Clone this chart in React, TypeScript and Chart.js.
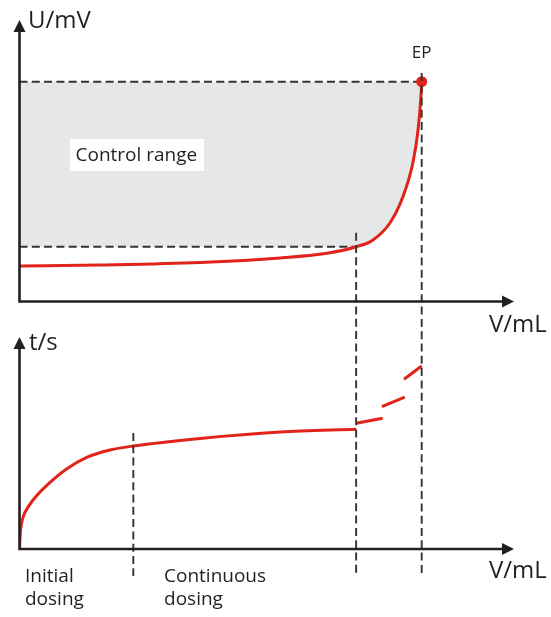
import React, { useEffect, useRef } from "react";
import { Chart, registerables } from "chart.js";

Chart.register(...registerables);

// ---- Data (schematic units) ----
// Upper panel: potential U (mV) versus added volume V (mL)
const TITRATION_V = [0, 2.0, 4.49, 6.48, 7.72, 8.37, 8.79, 9.21, 9.53, 9.78, 9.91, 9.98, 10];
const TITRATION_U = [16.15, 16.6, 17.7, 19.8, 22.2, 24.9, 28.0, 35.7, 47.5, 63.0, 78.1, 93.0, 100];

// Lower panel: time t (s) versus added volume V (mL), continuous part
const TIME_V = [0, 0.02, 0.05, 0.1, 0.22, 0.43, 0.76, 1.17, 1.67, 2.25, 2.83, 4.49, 6.48, 8.37];
const TIME_T = [0, 8, 12.8, 16.6, 21.2, 26.7, 33.3, 40, 45.8, 49.5, 51.5, 55.3, 58.5, 59.9];

// Lower panel: stepwise (dashed) segments in the control range
const STEP_V = [[8.37, 9.03], [9.01, 9.58], [9.56, 10]];
const STEP_T = [[62.9, 65.4], [71.2, 75.9], [84.9, 91.5]];

// Key points
const EP_V = 10;
const EP_U = 100;
const CONTROL_START_V = 8.37;
const CONTROL_LOW_U = 24.9;
const INITIAL_END_V = 2.83;

// Texts
const U_TITLE = "U/mV";
const T_TITLE = "t/s";
const V_TITLE = "V/mL";
const EP_LABEL = "EP";
const CONTROL_LABEL = "Control range";
const PHASE_LABELS = [["Initial", "dosing"], ["Continuous", "dosing"]];

// ---- Layout / style ----
const W = 551;
const H = 617;
const RED = "#e2231a";
const INK = "#231f20";
const DASH_INK = "#333333";
const GREY = "#e6e7e8";
const FONT = '"Open Sans", "Noto Sans", sans-serif';
const DASH = [8, 4.3];

const pts = (xs: number[], ys: number[]) => xs.map((x, i) => ({ x, y: ys[i] }));

const overlay = {
  id: "overlay",
  afterDatasetsDraw(chart: any) {
    const { ctx, scales } = chart;
    const x = scales.x;
    const yU = scales.yU;
    const yT = scales.yT;
    const px = (v: number) => x.getPixelForValue(v);

    ctx.save();
    // vertical dashed guides
    ctx.strokeStyle = DASH_INK;
    ctx.lineWidth = 1.9;
    ctx.setLineDash(DASH);
    const guides = [
      { v: CONTROL_START_V, y0: yU.getPixelForValue(31.3) },
      { v: EP_V, y0: yU.getPixelForValue(104) },
      { v: INITIAL_END_V, y0: yT.getPixelForValue(58) },
    ];
    const yEnd = yT.getPixelForValue(-13.5);
    for (const g of guides) {
      ctx.beginPath();
      ctx.moveTo(px(g.v), g.y0);
      ctx.lineTo(px(g.v), yEnd);
      ctx.stroke();
    }
    ctx.setLineDash([]);

    // axes with arrows
    const x0 = px(0);
    const xTip = px(x.max);
    const drawAxes = (yBase: number, yTip: number) => {
      ctx.strokeStyle = INK;
      ctx.fillStyle = INK;
      ctx.lineWidth = 2.6;
      ctx.beginPath();
      ctx.moveTo(x0, yBase + 1.3);
      ctx.lineTo(x0, yTip + 11);
      ctx.moveTo(x0 - 1.3, yBase);
      ctx.lineTo(xTip - 11, yBase);
      ctx.stroke();
      ctx.beginPath();
      ctx.moveTo(x0, yTip);
      ctx.lineTo(x0 - 6, yTip + 12);
      ctx.lineTo(x0 + 6, yTip + 12);
      ctx.closePath();
      ctx.fill();
      ctx.beginPath();
      ctx.moveTo(xTip, yBase);
      ctx.lineTo(xTip - 12, yBase - 6);
      ctx.lineTo(xTip - 12, yBase + 6);
      ctx.closePath();
      ctx.fill();
    };
    drawAxes(yU.getPixelForValue(0), chart.chartArea.top);
    drawAxes(yT.getPixelForValue(0), yT.getPixelForValue(106));

    // texts
    ctx.fillStyle = INK;
    ctx.textBaseline = "alphabetic";
    ctx.textAlign = "left";
    ctx.font = `24px ${FONT}`;
    ctx.fillText(U_TITLE, x0 + 8.5, chart.chartArea.top + 8);
    ctx.fillText(T_TITLE, x0 + 9.5, yT.getPixelForValue(106) + 13);
    ctx.fillText(V_TITLE, xTip - 25, yU.getPixelForValue(0) + 30.5);
    ctx.fillText(V_TITLE, xTip - 25, yT.getPixelForValue(0) + 29);

    ctx.font = `17px ${FONT}`;
    ctx.textAlign = "center";
    ctx.fillText(EP_LABEL, px(EP_V), yU.getPixelForValue(EP_U) - 23.5);
    ctx.textAlign = "left";

    // control range label with white box
    ctx.fillStyle = "#ffffff";
    ctx.fillRect(x0 + 50.5, 139, 134, 32);
    ctx.fillStyle = INK;
    ctx.font = `19px ${FONT}`;
    ctx.fillText(CONTROL_LABEL, x0 + 56, 160.7);

    // phase labels
    const phaseX = [x0 + 5.5, px(INITIAL_END_V) + 30.7];
    const yAxisT = yT.getPixelForValue(0);
    PHASE_LABELS.forEach((lines, i) => {
      lines.forEach((line, j) => {
        ctx.fillText(line, phaseX[i], yAxisT + 32.7 + j * 23.3);
      });
    });
    ctx.restore();
  },
};

export default function App() {
  const ref = useRef<HTMLCanvasElement>(null);

  useEffect(() => {
    if (!ref.current) return;
    const redLine = {
      borderColor: RED,
      borderWidth: 3,
      pointRadius: 0,
      fill: false,
      borderCapStyle: "butt",
    };
    const dashed = {
      borderColor: DASH_INK,
      borderWidth: 1.9,
      borderDash: DASH,
      pointRadius: 0,
      fill: false,
      tension: 0,
      order: 1,
      yAxisID: "yU",
    };
    const controlLower = [
      { x: 0, y: CONTROL_LOW_U },
      ...pts(TITRATION_V, TITRATION_U).filter((p) => p.x >= CONTROL_START_V),
    ];

    const datasets: any[] = [
      { ...redLine, data: pts(TITRATION_V, TITRATION_U), yAxisID: "yU", cubicInterpolationMode: "monotone", order: 0 },
      { ...redLine, data: pts(TIME_V, TIME_T), yAxisID: "yT", cubicInterpolationMode: "monotone", order: 0 },
      ...STEP_V.map((vs, i) => ({ ...redLine, data: pts(vs, STEP_T[i]), yAxisID: "yT", tension: 0, order: 0 })),
      {
        data: [{ x: EP_V, y: EP_U }],
        yAxisID: "yU",
        showLine: false,
        pointRadius: 5.5,
        pointBackgroundColor: RED,
        pointBorderWidth: 0,
        order: -1,
      },
      { ...dashed, data: [{ x: 0, y: EP_U }, { x: EP_V, y: EP_U }] },
      { ...dashed, data: [{ x: 0, y: CONTROL_LOW_U }, { x: CONTROL_START_V, y: CONTROL_LOW_U }] },
      {
        data: controlLower,
        yAxisID: "yU",
        borderWidth: 0,
        pointRadius: 0,
        backgroundColor: GREY,
        fill: { value: EP_U },
        cubicInterpolationMode: "monotone",
        order: 2,
      },
    ];

    const chart = new Chart(ref.current, {
      type: "line",
      data: { datasets },
      options: {
        responsive: false,
        animation: false,
        devicePixelRatio: 1,
        events: [],
        layout: { padding: { left: 19.5, right: 37, top: 20, bottom: 68 } },
        plugins: { legend: { display: false }, tooltip: { enabled: false } },
        scales: {
          x: { type: "linear", display: false, min: 0, max: 12.295, bounds: "data" },
          yU: { type: "linear", display: false, min: -112.6, max: 128.07, bounds: "data" },
          yT: { type: "linear", display: false, min: 0, max: 264.5, bounds: "data" },
        },
      } as any,
      plugins: [overlay],
    } as any);
    return () => chart.destroy();
  }, []);

  return (
    <div style={{ position: "absolute", left: 0, top: 0, width: W, height: H, background: "#fff" }}>
      <canvas ref={ref} width={W} height={H} style={{ display: "block", width: W, height: H }} />
    </div>
  );
}
